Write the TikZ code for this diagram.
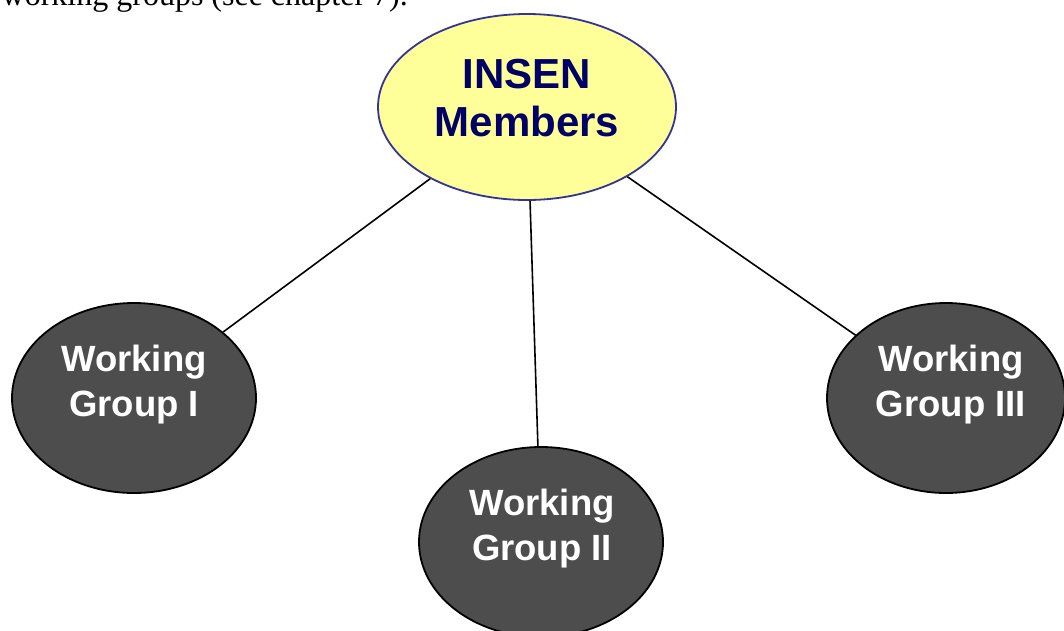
\documentclass[tikz,border=0pt]{standalone}
\usepackage{fontspec}
\setmainfont{Liberation Sans}
\newfontfamily\bodyserif{Liberation Serif}
\usetikzlibrary{shapes.geometric}
\definecolor{topfill}{HTML}{FFFF99}
\definecolor{topdraw}{HTML}{333399}
\definecolor{toptext}{HTML}{000066}
\definecolor{wgfill}{HTML}{4D4D4D}
\tikzset{
  topell/.style={ellipse, draw=topdraw, fill=topfill, line width=1.8pt, inner sep=0pt, minimum width=298pt, minimum height=186pt},
  wgell/.style={ellipse, draw=black, fill=wgfill, line width=1.8pt, inner sep=0pt, minimum width=244pt, minimum height=190pt},
  toptxt/.style={inner sep=0pt, align=center, text=toptext, font=\bfseries\fontsize{42}{48}\selectfont},
  wgtxt/.style={inner sep=0pt, align=center, text=white, font=\bfseries\fontsize{36.5}{45}\selectfont},
  link/.style={draw=black, line width=1.6pt},
}
\begin{document}
\begin{tikzpicture}[x=1pt, y=-1pt]
\useasboundingbox (0,0) rectangle (1064,630);
\fill[white] (0,0) rectangle (1064,630);
\node[anchor=base west, inner sep=0pt, font=\bodyserif\fontsize{32}{36}\selectfont] (intro) at (1.5,5) {working groups (see chapter 7).};
\node[topell] (ins) at (527,107) {};
\node[wgell] (wg1) at (134,398) {};
\node[wgell] (wg2) at (541,542) {};
\node[wgell, minimum width=238pt] (wg3) at (946,398) {};
\draw[link] (ins) -- (wg1);
\draw[link] (ins) -- (wg2);
\draw[link] (ins) -- (wg3);
\node[toptxt] (inst) at (527,98) {INSEN\\Members};
\node[wgtxt] (wg1t) at (134,385) {Working\\Group I};
\node[wgtxt] (wg2t) at (542,528.5) {Working\\Group II};
\node[wgtxt] (wg3t) at (951,385) {Working\\Group III};
\end{tikzpicture}
\end{document}
